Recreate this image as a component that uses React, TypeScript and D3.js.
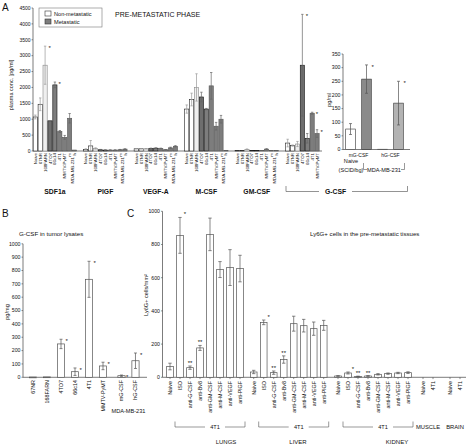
import React from "react";
import * as d3 from "d3";

const FONT = "'Liberation Sans', Arial, Helvetica, sans-serif";

// ---------- Panel A data ----------
const A_GROUPS = ["SDF1a", "PlGF", "VEGF-A", "M-CSF", "GM-CSF", "G-CSF"];
const A_CATEGORIES = ["Naive", "67NR", "168FARN", "4TO7", "66c14", "4T1", "MMTV-PyMT", "m", "h"];
const A_METASTATIC = [false, false, false, true, true, true, true, true, true];
const SDF1A_VALUES = [1070, 1470, 2700, 950, 2080, 615, 430, 1030, 30];
const SDF1A_ERRORS = [60, 200, 600, 0, 90, 30, 60, 150, 0];
const SDF1A_SIG = ["", "", "*", "", "*", "", "", "", ""];
const PLGF_VALUES = [50, 160, 80, 40, 30, 30, 30, 40, 60];
const PLGF_ERRORS = [20, 170, 20, 10, 5, 5, 5, 10, 10];
const VEGFA_VALUES = [70, 70, 70, 80, 90, 80, 40, 100, 150];
const VEGFA_ERRORS = [5, 5, 5, 10, 10, 10, 5, 20, 20];
const MCSF_VALUES = [1320, 1620, 2000, 1700, 1320, 2050, 780, 1000, 10];
const MCSF_ERRORS = [130, 200, 430, 150, 20, 420, 120, 120, 0];
const GMCSF_VALUES = [10, 10, 50, 10, 10, 10, 60, 10, 10];
const GMCSF_ERRORS = [0, 0, 15, 0, 0, 0, 15, 0, 0];
const GCSF_VALUES = [250, 170, 220, 2700, 400, 1190, 550];
const GCSF_ERRORS = [120, 20, 80, 1600, 150, 30, 120];
const GCSF_SIG = ["", "", "", "*", "*", "*", "*"];
const A_Y_TICKS = [0, 500, 1000, 1500, 2000, 2500, 3000, 3500, 4000, 4500];

// inset
const INSET_CATEGORIES = ["mG-CSF", "hG-CSF"];
const INSET_VALUES = [75, 258, 1, 170];
const INSET_ERRORS = [20, 52, 0, 80];
const INSET_SIG = ["", "*", "", "*"];
const INSET_TICKS = [0, 50, 100, 150, 200, 250, 300, 350];

// ---------- Panel B data ----------
const B_CATEGORIES = ["67NR", "168FARN", "4TO7", "66c14", "4T1", "MMTV-PyMT", "mG-CSF", "hG-CSF"];
const B_VALUES = [2, 3, 250, 42, 734, 85, 12, 124];
const B_ERRORS = [0, 0, 35, 28, 135, 28, 5, 58];
const B_SIG = ["", "", "*", "*", "*", "*", "*", "*"];
const B_TICKS = [0, 100, 200, 300, 400, 500, 600, 700, 800, 900, 1000];

// ---------- Panel C data ----------
const C_TREATMENTS = ["Naive", "ISO", "anti-G-CSF", "anti-Bv8", "anti-GM-CSF", "anti-M-CSF", "anti-VEGF", "anti-PlGF"];
const C_TISSUES = ["LUNGS", "LIVER", "KIDNEY", "MUSCLE", "BRAIN"];
const LUNGS_VALUES = [65, 855, 58, 177, 861, 649, 661, 655];
const LUNGS_ERRORS = [20, 108, 10, 15, 98, 48, 108, 80];
const LIVER_VALUES = [32, 331, 28, 107, 323, 311, 293, 313];
const LIVER_ERRORS = [10, 14, 10, 22, 45, 38, 40, 30];
const KIDNEY_VALUES = [8, 26, 5, 8, 18, 22, 26, 28];
const KIDNEY_ERRORS = [2, 6, 2, 2, 4, 4, 4, 5];
const TISSUE_SIG = ["", "*", "**", "**", "", "", "", ""];
const SHORT_CATEGORIES = ["Naive", "4T1"];
const MUSCLE_VALUES = [0, 0];
const BRAIN_VALUES = [0, 0];
const C_TICKS = [0, 200, 400, 600, 800, 1000];

const INK = "#111";
const AXIS = "#444";

function Rot({ x, y, text, size }: { x: number; y: number; text: string; size: number }) {
  return (
    <text transform={`translate(${x},${y}) rotate(-90)`} textAnchor="end" dy="0.35em" fontSize={size} fill={INK}>
      {text}
    </text>
  );
}

function ErrBar({ x, y1, y2, cap, color }: { x: number; y1: number; y2: number; cap: number; color: string }) {
  return (
    <g stroke={color} strokeWidth={0.7}>
      <line x1={x} x2={x} y1={y1} y2={y2} />
      <line x1={x - cap / 2} x2={x + cap / 2} y1={y1} y2={y1} />
      <line x1={x - cap / 2} x2={x + cap / 2} y1={y2} y2={y2} />
    </g>
  );
}

export default function App() {
  // ===== Panel A =====
  const yA = d3.scaleLinear().domain([0, 4500]).range([151, 8]);
  const xA = d3.scaleLinear().domain([0, 1]).range([35.3, 40.2]);
  const GROUP_STEP = 10.3;
  const bwA = 4.2;
  const aSeries = [SDF1A_VALUES, PLGF_VALUES, VEGFA_VALUES, MCSF_VALUES, GMCSF_VALUES, GCSF_VALUES];
  const aErrors = [SDF1A_ERRORS, PLGF_ERRORS, VEGFA_ERRORS, MCSF_ERRORS, GMCSF_ERRORS, GCSF_ERRORS];
  const aSig = [SDF1A_SIG, [], [], [], [], GCSF_SIG];
  const aFill = (i: number) =>
    A_METASTATIC[i] ? (i === 3 ? "#6e6e6e" : "#7d7d7d") : i === 2 ? "#efefef" : "#ffffff";
  const aStroke = (i: number) => (A_METASTATIC[i] ? (i === 3 || i === 4 ? "#111" : "#555") : i === 2 ? "#888" : "#222");

  // inset
  const yI = d3.scaleLinear().domain([0, 350]).range([149.5, 54]);
  const xI = d3.scaleLinear().domain([0, 3]).range([350.5, 398.5]);
  const insetFill = ["#ffffff", "#8a8a8a", "#ffffff", "#b3b3b3"];

  // ===== Panel B =====
  const yB = d3.scaleLinear().domain([0, 1000]).range([377.3, 243.8]);
  const xB = d3.scaleLinear().domain([0, 1]).range([33, 47]);
  const bSlot = (i: number) => i + (i >= 6 ? 0.32 : 0);

  // ===== Panel C =====
  const yC = d3.scaleLinear().domain([0, 1000]).range([377.3, 211.3]);
  const xC = d3.scaleLinear().domain([0, 1]).range([170, 180]);
  const C_GROUP_START = [0, 8.37, 16.8, 25.3, 28];
  const cSeries = [LUNGS_VALUES, LIVER_VALUES, KIDNEY_VALUES, MUSCLE_VALUES, BRAIN_VALUES];
  const cErrors = [LUNGS_ERRORS, LIVER_ERRORS, KIDNEY_ERRORS, [0, 0], [0, 0]];
  const cCats = [C_TREATMENTS, C_TREATMENTS, C_TREATMENTS, SHORT_CATEGORIES, SHORT_CATEGORIES];
  const bwC = 6.7;
  const tissueLabelX = [226, 298, 397];

  return (
    <svg
      width={466}
      height={445}
      viewBox="0 0 466 445"
      style={{ position: "absolute", left: 0, top: 0, background: "#fff" }}
      fontFamily={FONT}
    >
      <rect width={466} height={445} fill="#fff" />

      {/* ================= Panel A ================= */}
      <text x={2} y={11} fontSize={10} fill={INK}>A</text>
      <text transform="translate(13,85) rotate(-90)" textAnchor="middle" fontSize={5.5} fill={INK}>
        plasma conc. [pg/ml]
      </text>
      <line x1={33} x2={33} y1={yA(4500)} y2={yA(0)} stroke={AXIS} strokeWidth={0.7} />
      {A_Y_TICKS.map((t) => (
        <g key={t}>
          <line x1={31.5} x2={33} y1={yA(t)} y2={yA(t)} stroke={AXIS} strokeWidth={0.6} />
          <text x={30.5} y={yA(t)} dy="0.35em" textAnchor="end" fontSize={5} fill={INK}>{t}</text>
        </g>
      ))}
      <line x1={33} x2={322} y1={yA(0)} y2={yA(0)} stroke={AXIS} strokeWidth={0.7} />

      {/* legend */}
      <rect x={39} y={8} width={63} height={19} fill="#fff" stroke="#777" strokeWidth={0.6} />
      <rect x={45} y={11} width={6} height={5} fill="#fff" stroke="#333" strokeWidth={0.6} />
      <text x={54} y={15.8} fontSize={5.6} fill={INK}>Non-metastatic</text>
      <rect x={45} y={19} width={6} height={5} fill="#7d7d7d" stroke="#333" strokeWidth={0.6} />
      <text x={54} y={23.8} fontSize={5.6} fill={INK}>Metastatic</text>
      <text x={115} y={16.5} fontSize={7} fill={INK}>PRE-METASTATIC PHASE</text>

      {aSeries.map((vals, g) => (
        <g key={A_GROUPS[g]}>
          {vals.map((v, i) => {
            const cx = xA(g * GROUP_STEP + i);
            const e = aErrors[g][i];
            const sig = (aSig[g] as string[])[i];
            return (
              <g key={i}>
                <rect
                  x={cx - bwA / 2}
                  y={yA(v)}
                  width={bwA}
                  height={yA(0) - yA(v)}
                  fill={aFill(i)}
                  stroke={aStroke(i)}
                  strokeWidth={0.6}
                />
                {e > 0 && (
                  <ErrBar x={cx} y1={yA(v + e)} y2={yA(Math.max(v - e, 0))} cap={2.4} color={A_METASTATIC[i] ? "#666" : "#999"} />
                )}
                {sig && (
                  <text x={cx + 3.5} y={yA(v + e) + 4} fontSize={6} fill={INK}>{sig}</text>
                )}
              </g>
            );
          })}
          {(g < 5 ? A_CATEGORIES : A_CATEGORIES.slice(0, 7)).map((c, i) => (
            <Rot key={c} x={xA(g * GROUP_STEP + i)} y={153} text={c} size={4.4} />
          ))}
          {g < 5 && <Rot x={xA(g * GROUP_STEP + 7.55)} y={157} text="MDA-MB-231" size={4.4} />}
          {g < 5 && (
            <text x={xA(g * GROUP_STEP + 4)} y={193.5} textAnchor="middle" fontSize={6.8} fontWeight="bold" fill={INK}>
              {A_GROUPS[g]}
            </text>
          )}
        </g>
      ))}
      {/* G-CSF bracket */}
      <path d="M286,186 V191.5 H319 M352,191.5 H407.5 V186" fill="none" stroke="#666" strokeWidth={0.7} />
      <text x={335.5} y={193.8} textAnchor="middle" fontSize={6.8} fontWeight="bold" fill={INK}>{A_GROUPS[5]}</text>

      {/* inset */}
      <text transform="translate(331,100) rotate(-90)" textAnchor="middle" fontSize={5.6} fill={INK}>pg/ml</text>
      <line x1={343} x2={343} y1={yI(350)} y2={yI(0)} stroke={AXIS} strokeWidth={0.7} />
      <line x1={343} x2={410} y1={yI(0)} y2={yI(0)} stroke={AXIS} strokeWidth={0.7} />
      {INSET_TICKS.map((t) => (
        <g key={t}>
          <line x1={341.5} x2={343} y1={yI(t)} y2={yI(t)} stroke={AXIS} strokeWidth={0.6} />
          <text x={340.5} y={yI(t)} dy="0.35em" textAnchor="end" fontSize={5.2} fill={INK}>{t}</text>
        </g>
      ))}
      {INSET_VALUES.map((v, i) => {
        const cx = xI(i);
        const e = INSET_ERRORS[i];
        return (
          <g key={i}>
            <rect x={cx - 4.8} y={yI(v)} width={9.6} height={yI(0) - yI(v)} fill={insetFill[i]} stroke="#333" strokeWidth={0.6} />
            {e > 0 && <ErrBar x={cx} y1={yI(v + e)} y2={yI(v - e)} cap={3} color="#555" />}
            {INSET_SIG[i] && <text x={cx + 5} y={yI(v + e) + 4} fontSize={6} fill={INK}>{INSET_SIG[i]}</text>}
          </g>
        );
      })}
      {INSET_CATEGORIES.map((c, k) => (
        <text key={c} x={(xI(2 * k) + xI(2 * k + 1)) / 2} y={156.5} textAnchor="middle" fontSize={5} fill={INK}>{c}</text>
      ))}
      <text x={351} y={163} textAnchor="middle" fontSize={5.6} fill={INK}>Naive</text>
      <text x={351} y={171.5} textAnchor="middle" fontSize={5.6} fill={INK}>(SCID/bg)</text>
      <path d="M363.5,163 V169.5 H367 M401,169.5 H404.5 V163" fill="none" stroke="#555" strokeWidth={0.6} />
      <text x={384} y={171.5} textAnchor="middle" fontSize={5.6} fill={INK}>MDA-MB-231</text>

      {/* ================= Panel B ================= */}
      <text x={2} y={217} fontSize={10} fill={INK}>B</text>
      <text x={19} y={236} fontSize={6.2} fill={INK}>G-CSF in tumor lysates</text>
      <text transform="translate(9,312) rotate(-90)" textAnchor="middle" fontSize={5.6} fill={INK}>pg/mg</text>
      <line x1={23} x2={23} y1={yB(1000)} y2={yB(0)} stroke={AXIS} strokeWidth={0.7} />
      <line x1={23} x2={147} y1={yB(0)} y2={yB(0)} stroke={AXIS} strokeWidth={0.7} />
      {B_TICKS.map((t) => (
        <g key={t}>
          <line x1={21.5} x2={23} y1={yB(t)} y2={yB(t)} stroke={AXIS} strokeWidth={0.6} />
          <text x={20.5} y={yB(t)} dy="0.35em" textAnchor="end" fontSize={5.2} fill={INK}>{t}</text>
        </g>
      ))}
      {B_VALUES.map((v, i) => {
        const cx = xB(bSlot(i));
        const e = B_ERRORS[i];
        return (
          <g key={i}>
            <rect x={cx - 3.6} y={yB(v)} width={7.2} height={Math.max(yB(0) - yB(v), 0.8)} fill="#fff" stroke="#555" strokeWidth={0.7} />
            {e > 0 && <ErrBar x={cx} y1={yB(v + e)} y2={yB(Math.max(v - e, 0))} cap={3} color="#555" />}
            {B_SIG[i] && <text x={cx + 4.5} y={yB(v + e) + 4} fontSize={6} fill={INK}>{B_SIG[i]}</text>}
            <Rot x={cx} y={380} text={B_CATEGORIES[i]} size={5.4} />
          </g>
        );
      })}
      <text x={128.5} y={412.5} textAnchor="middle" fontSize={5.6} fill={INK}>MDA-MB-231</text>

      {/* ================= Panel C ================= */}
      <text x={127} y={217} fontSize={10} fill={INK}>C</text>
      <text x={310} y={236} fontSize={6.1} fill={INK}>Ly6G+ cells in the pre-metastatic tissues</text>
      <text transform="translate(148,295) rotate(-90)" textAnchor="middle" fontSize={5.6} fill={INK}>
        Ly6G+ cells/mm²
      </text>
      <line x1={162.5} x2={162.5} y1={yC(1000)} y2={yC(0)} stroke={AXIS} strokeWidth={0.7} />
      <line x1={162.5} x2={466} y1={yC(0)} y2={yC(0)} stroke={AXIS} strokeWidth={0.7} />
      {C_TICKS.map((t) => (
        <g key={t}>
          <line x1={161} x2={162.5} y1={yC(t)} y2={yC(t)} stroke={AXIS} strokeWidth={0.6} />
          <text x={160} y={yC(t)} dy="0.35em" textAnchor="end" fontSize={5.2} fill={INK}>{t}</text>
        </g>
      ))}
      {cSeries.map((vals, g) => (
        <g key={C_TISSUES[g]}>
          {vals.map((v, i) => {
            const cx = xC(C_GROUP_START[g] + i);
            const e = cErrors[g][i];
            const sig = g < 3 ? TISSUE_SIG[i] : "";
            return (
              <g key={i}>
                <line x1={cx} x2={cx} y1={yC(0)} y2={yC(0) + 1.8} stroke={AXIS} strokeWidth={0.6} />
                {v > 0 && (
                  <rect x={cx - bwC / 2} y={yC(v)} width={bwC} height={yC(0) - yC(v)} fill="#fff" stroke="#555" strokeWidth={0.7} />
                )}
                {e > 0 && <ErrBar x={cx} y1={yC(v + e)} y2={yC(Math.max(v - e, 0))} cap={3.4} color="#555" />}
                {sig && (
                  <text x={sig === "*" ? cx + 5 : cx} y={yC(v + e) - 1} textAnchor="middle" fontSize={6} fill={INK}>{sig}</text>
                )}
                <Rot x={cx} y={381} text={cCats[g][i]} size={5.4} />
              </g>
            );
          })}
          {g < 3 && (
            <g>
              <path
                d={`M${xC(C_GROUP_START[g] + 0.5)},421.5 V427 H${xC(C_GROUP_START[g] + 3.5)} M${xC(C_GROUP_START[g] + 5.5)},427 H${xC(C_GROUP_START[g] + 7.5)} V421.5`}
                fill="none"
                stroke="#555"
                strokeWidth={0.6}
              />
              <text x={xC(C_GROUP_START[g] + 4.5)} y={429} textAnchor="middle" fontSize={5.6} fill={INK}>4T1</text>
              <text x={tissueLabelX[g]} y={444} textAnchor="middle" fontSize={6} fill={INK}>{C_TISSUES[g]}</text>
            </g>
          )}
          {g >= 3 && (
            <text x={xC(C_GROUP_START[g] + 0.5)} y={429} textAnchor="middle" fontSize={5.8} fill={INK}>{C_TISSUES[g]}</text>
          )}
        </g>
      ))}
    </svg>
  );
}
